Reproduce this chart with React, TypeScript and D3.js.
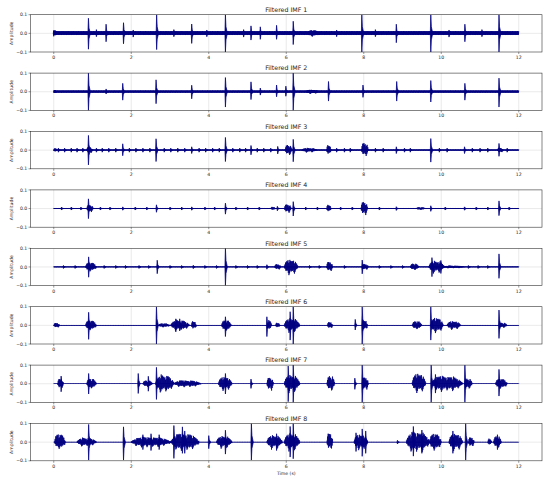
import React from 'react';
import * as d3 from 'd3';

const xTicks = [0, 2, 4, 6, 8, 10, 12];
const yTicks = [-0.1, 0.0, 0.1];
const titles = ['Filtered IMF 1', 'Filtered IMF 2', 'Filtered IMF 3', 'Filtered IMF 4',
  'Filtered IMF 5', 'Filtered IMF 6', 'Filtered IMF 7', 'Filtered IMF 8'];
const signalEnd = 12;

// half-width of the background noise band in each IMF
const baseNoise = [0.012, 0.007, 0.004, 0.003, 0.003, 0.002, 0.0015, 0.0015];

// spikes: [time, top, bottom]
const imf1Spikes = [
  [0.0, 0.016, -0.016], [0.895, 0.081, -0.085], [1.35, 0.049, -0.045], [1.8, 0.057, -0.056],
  [2.655, 0.1, -0.087], [3.56, 0.05, -0.054], [4.43, 0.1, -0.1], [5.09, 0.04, -0.036],
  [5.33, 0.035, -0.032], [5.75, 0.043, -0.032], [6.18, 0.065, -0.06], [7.95, 0.1, -0.1],
  [8.84, 0.049, -0.05], [9.73, 0.1, -0.1], [10.61, 0.049, -0.045], [11.49, 0.1, -0.1],
  [1.1, 0.02, -0.018], [2.05, 0.018, -0.02], [3.1, 0.02, -0.018], [3.95, 0.018, -0.018],
  [4.9, 0.02, -0.02], [7.3, 0.018, -0.018], [8.3, 0.02, -0.018], [10.2, 0.018, -0.02], [11.05, 0.02, -0.018],
];
const imf2Spikes = [
  [0.895, 0.1, -0.1], [1.35, 0.015, -0.012], [1.78, 0.045, -0.045], [2.64, 0.064, -0.064],
  [3.56, 0.035, -0.038], [4.43, 0.076, -0.082], [5.09, 0.053, -0.042], [5.33, 0.02, -0.018],
  [5.75, 0.036, -0.027], [5.99, 0.03, -0.024], [6.18, 0.1, -0.1], [7.09, 0.055, -0.05],
  [7.98, 0.036, -0.03], [8.85, 0.055, -0.05], [9.73, 0.06, -0.055], [10.61, 0.045, -0.045],
  [11.49, 0.073, -0.082],
];
const imf3Spikes = [
  [0.895, 0.079, -0.079], [1.78, 0.034, -0.03], [2.64, 0.061, -0.061], [3.56, 0.018, -0.018],
  [4.43, 0.068, -0.061], [5.09, 0.025, -0.025], [5.78, 0.02, -0.02], [6.18, 0.058, -0.062],
  [8.84, 0.018, -0.018], [9.73, 0.062, -0.064], [10.6, 0.018, -0.018], [11.49, 0.036, -0.033],
  [0.12, 0.011, -0.011], [0.28, 0.011, -0.011], [0.45, 0.011, -0.011], [0.6, 0.011, -0.011],
  [0.75, 0.011, -0.011], [1.1, 0.011, -0.011], [1.25, 0.011, -0.011], [1.42, 0.011, -0.011],
  [1.6, 0.011, -0.011], [1.95, 0.011, -0.011], [2.12, 0.011, -0.011], [2.3, 0.011, -0.011],
  [2.48, 0.011, -0.011], [2.85, 0.011, -0.011], [3.02, 0.011, -0.011], [3.2, 0.011, -0.011],
  [3.38, 0.011, -0.011], [3.75, 0.011, -0.011], [3.92, 0.011, -0.011], [4.1, 0.011, -0.011],
  [4.27, 0.011, -0.011], [4.62, 0.011, -0.011], [4.8, 0.011, -0.011], [4.95, 0.011, -0.011],
  [5.25, 0.011, -0.011], [5.42, 0.011, -0.011], [5.6, 0.011, -0.011], [7.3, 0.011, -0.011],
  [7.5, 0.011, -0.011], [7.65, 0.011, -0.011], [8.3, 0.011, -0.011], [8.5, 0.011, -0.011],
  [9.05, 0.011, -0.011], [9.2, 0.011, -0.011], [9.95, 0.011, -0.011], [10.15, 0.011, -0.011],
  [10.8, 0.011, -0.011], [11.0, 0.011, -0.011], [11.2, 0.011, -0.011], [11.7, 0.011, -0.011],
];
const imf4Spikes = [
  [0.895, 0.052, -0.054], [2.65, 0.02, -0.02], [4.43, 0.029, -0.03], [5.77, 0.012, -0.012],
  [6.18, 0.037, -0.04], [8.84, 0.01, -0.01], [9.73, 0.015, -0.015], [11.49, 0.041, -0.038],
  [0.2, 0.008, -0.008], [0.45, 0.008, -0.008], [0.7, 0.008, -0.008], [1.2, 0.008, -0.008],
  [1.45, 0.008, -0.008], [1.78, 0.009, -0.009], [2.1, 0.008, -0.008], [2.4, 0.008, -0.008],
  [3.0, 0.008, -0.008], [3.3, 0.008, -0.008], [3.56, 0.009, -0.009], [3.9, 0.008, -0.008],
  [4.15, 0.008, -0.008], [4.7, 0.008, -0.008], [5.0, 0.008, -0.008], [5.3, 0.008, -0.008],
  [6.5, 0.008, -0.008], [6.8, 0.008, -0.008], [7.4, 0.008, -0.008], [7.7, 0.008, -0.008],
  [8.4, 0.008, -0.008], [10.1, 0.008, -0.008], [10.6, 0.009, -0.009], [10.9, 0.008, -0.008],
  [11.2, 0.008, -0.008], [11.75, 0.008, -0.008],
];
const imf5Spikes = [
  [0.9, 0.054, -0.055], [2.67, 0.036, -0.036], [4.43, 0.1, -0.1], [5.5, 0.012, -0.012],
  [7.96, 0.037, -0.037], [9.76, 0.05, -0.052], [9.99, 0.035, -0.035], [11.49, 0.07, -0.061],
  [0.25, 0.008, -0.008], [0.55, 0.008, -0.008], [1.3, 0.008, -0.008], [1.6, 0.008, -0.008],
  [1.85, 0.008, -0.008], [2.2, 0.008, -0.008], [2.45, 0.008, -0.008], [3.0, 0.008, -0.008],
  [3.3, 0.008, -0.008], [3.6, 0.009, -0.009], [3.9, 0.008, -0.008], [4.2, 0.008, -0.008],
  [4.7, 0.008, -0.008], [5.0, 0.008, -0.008], [5.25, 0.008, -0.008], [6.6, 0.008, -0.008],
  [6.85, 0.008, -0.008], [7.5, 0.008, -0.008], [8.4, 0.008, -0.008], [8.7, 0.008, -0.008],
  [9.0, 0.008, -0.008], [10.7, 0.008, -0.008], [10.95, 0.008, -0.008], [11.2, 0.008, -0.008],
];
const imf6Spikes = [
  [0.9, 0.07, -0.075], [2.65, 0.1, -0.1], [3.15, 0.035, -0.035], [3.25, 0.035, -0.03],
  [4.43, 0.046, -0.06], [5.5, 0.046, -0.06], [6.1, 0.073, -0.079], [6.18, 0.1, -0.1],
  [7.78, 0.032, -0.025], [7.96, 0.1, -0.1], [9.73, 0.1, -0.079], [11.49, 0.082, -0.07],
];
const imf7Spikes = [
  [0.19, 0.041, -0.043], [0.9, 0.055, -0.055], [2.18, 0.055, -0.052], [2.44, 0.04, -0.04],
  [2.65, 0.088, -0.084], [4.43, 0.055, -0.055], [5.09, 0.025, -0.025], [6.05, 0.095, -0.096],
  [6.18, 0.1, -0.1], [7.77, 0.03, -0.03], [7.96, 0.1, -0.1], [9.74, 0.1, -0.1],
  [9.85, 0.05, -0.05], [10.61, 0.1, -0.1], [11.49, 0.077, -0.066],
];
const imf8Spikes = [
  [0.9, 0.095, -0.096], [1.8, 0.082, -0.096], [2.3, 0.04, -0.04], [2.51, 0.045, -0.045],
  [2.72, 0.04, -0.04], [3.1, 0.089, -0.087], [3.32, 0.082, -0.06], [3.38, 0.06, -0.06],
  [4.0, 0.035, -0.035], [4.43, 0.064, -0.064], [5.1, 0.1, -0.096], [5.75, 0.045, -0.045],
  [6.1, 0.084, -0.08], [6.18, 0.1, -0.089], [7.8, 0.05, -0.05], [7.96, 0.071, -0.076],
  [8.05, 0.06, -0.06], [8.87, 0.01, -0.01], [9.28, 0.084, -0.075], [9.5, 0.065, -0.06],
  [10.3, 0.06, -0.06], [10.63, 0.1, -0.096], [11.45, 0.04, -0.04],
];

// bursts: [start, end, top, bottom]
const imf1Bursts = [[0, 0.08, 0.02, -0.02], [6.55, 6.85, 0.02, -0.02]];
const imf2Bursts = [[0, 0.06, 0.012, -0.012], [6.5, 6.85, 0.012, -0.012]];
const imf3Bursts = [
  [0, 0.08, 0.012, -0.012], [0.85, 1.0, 0.02, -0.02], [5.97, 6.15, 0.032, -0.03],
  [6.4, 6.8, 0.013, -0.013], [7.04, 7.16, 0.03, -0.03], [7.94, 8.12, 0.045, -0.036],
  [11.45, 11.6, 0.015, -0.015],
];
const imf4Bursts = [
  [0.85, 1.02, 0.022, -0.022], [5.6, 5.72, 0.01, -0.01], [5.95, 6.13, 0.026, -0.026],
  [7.04, 7.16, 0.022, -0.022], [7.93, 8.1, 0.041, -0.041], [9.35, 9.6, 0.008, -0.008],
];
const imf5Bursts = [
  [0.82, 1.1, 0.027, -0.027], [5.7, 5.86, 0.017, -0.017], [5.95, 6.3, 0.043, -0.046],
  [7.04, 7.2, 0.032, -0.028], [7.96, 8.12, 0.018, -0.018], [9.2, 9.42, 0.02, -0.02],
  [9.68, 10.08, 0.035, -0.035], [10.05, 10.6, 0.008, -0.008],
];
const imf6Bursts = [
  [0, 0.15, 0.015, -0.015], [0.82, 1.1, 0.03, -0.03], [2.7, 3.0, 0.012, -0.012],
  [3.02, 3.5, 0.03, -0.03], [3.55, 3.68, 0.025, -0.025], [4.33, 4.58, 0.03, -0.035],
  [5.52, 5.62, 0.03, -0.03], [5.72, 5.84, 0.015, -0.015], [5.95, 6.35, 0.04, -0.04],
  [7.06, 7.2, 0.02, -0.02], [7.96, 8.1, 0.03, -0.03], [9.25, 9.5, 0.025, -0.025],
  [9.73, 10.05, 0.045, -0.045], [10.15, 10.5, 0.025, -0.025], [11.49, 11.7, 0.015, -0.015],
];
const imf7Bursts = [
  [0.1, 0.25, 0.03, -0.03], [0.85, 1.1, 0.03, -0.03], [2.3, 2.55, 0.02, -0.02],
  [2.63, 3.1, 0.05, -0.05], [3.1, 3.8, 0.02, -0.02], [4.25, 4.6, 0.04, -0.04],
  [5.5, 5.67, 0.038, -0.043], [5.95, 6.35, 0.05, -0.05], [7.05, 7.25, 0.046, -0.043],
  [7.96, 8.12, 0.04, -0.04], [9.25, 9.6, 0.06, -0.052], [9.74, 10.55, 0.045, -0.045],
  [10.6, 10.8, 0.03, -0.03], [11.4, 11.7, 0.03, -0.03],
];
const imf8Bursts = [
  [0.02, 0.3, 0.049, -0.042], [0.6, 1.1, 0.025, -0.025], [2.0, 3.03, 0.03, -0.03],
  [3.03, 3.75, 0.05, -0.05], [4.2, 4.6, 0.035, -0.035], [5.5, 5.9, 0.04, -0.04],
  [5.95, 6.35, 0.05, -0.05], [7.05, 7.2, 0.056, -0.049], [7.75, 8.1, 0.045, -0.045],
  [9.1, 9.7, 0.06, -0.06], [9.7, 10.0, 0.051, -0.05], [10.2, 10.55, 0.05, -0.05],
  [10.7, 10.85, 0.03, -0.03], [11.2, 11.3, 0.02, -0.02], [11.35, 11.55, 0.035, -0.035],
];

const allSpikes = [imf1Spikes, imf2Spikes, imf3Spikes, imf4Spikes, imf5Spikes, imf6Spikes, imf7Spikes, imf8Spikes];
const allBursts = [imf1Bursts, imf2Bursts, imf3Bursts, imf4Bursts, imf5Bursts, imf6Bursts, imf7Bursts, imf8Bursts];

const W = 550;
const H = 483;
const left = 30.5;
const right = 542;
const firstTop = 14.7;
const pitch = 58.4;
const panelH = 37.3;
const navy = '#000080';
const font = 'DejaVu Sans, sans-serif';

// fixed stroke texture so filled regions read as an oscillating trace
const texture = [1, 0.6, 0.85, 0.45, 0.95, 0.65, 0.8, 0.5, 0.9, 0.55, 0.75, 0.4, 0.88, 0.7, 0.5, 1, 0.62, 0.82];
const baseTexture = [1, 0.75, 0.9, 0.6, 0.95, 0.7, 0.85, 0.65];
const burstProfile = [[0, 0.15], [0.12, 0.7], [0.3, 1], [0.5, 0.78], [0.7, 0.88], [0.88, 0.5], [1, 0.15]];
const step = 0.008;

type P = { t: number; hi: number; lo: number };

export default function App() {
  const x = d3.scaleLinear().domain([-0.6, 12.6]).range([left, right]);
  const y = d3.scaleLinear().domain([-0.1, 0.1]).range([panelH, 0]);
  const area = d3.area<P>().x(d => x(d.t)).y0(d => y(d.lo)).y1(d => y(d.hi));
  const line = d3.line<[number, number]>().x(d => x(d[0])).y(d => y(d[1]));

  const spikePath = (s: number[]) => {
    const [t, top, bot] = s;
    return area([
      { t: t - 0.012, hi: 0, lo: 0 },
      { t, hi: top, lo: bot },
      { t: t + 0.014, hi: top * 0.35, lo: bot * 0.35 },
      { t: t + 0.05, hi: 0, lo: 0 },
    ]);
  };

  const zigzag = (t0: number, t1: number, top: number, bot: number, env: (f: number) => number, tex: number[]) => {
    const pts: [number, number][] = [];
    const n = Math.max(2, Math.round((t1 - t0) / step));
    for (let k = 0; k <= n; k++) {
      const f = k / n;
      const m = env(f) * tex[k % tex.length];
      pts.push([t0 + f * (t1 - t0), (k % 2 === 0 ? top : bot) * m]);
    }
    return line(pts);
  };

  const profileScale = d3.scaleLinear().domain(burstProfile.map(p => p[0])).range(burstProfile.map(p => p[1]));
  const burstPath = (b: number[]) => zigzag(b[0], b[1], b[2], b[3], f => profileScale(f), texture);

  return (
    <svg width={W} height={H} style={{ position: 'absolute', left: 0, top: 0, background: '#fff' }}
      fontFamily={font}>
      <defs>
        <clipPath id="plotclip">
          <rect x={left} y={0} width={right - left} height={panelH} />
        </clipPath>
      </defs>
      {titles.map((title, i) => {
        const top = firstTop + i * pitch;
        const base = baseNoise[i];
        return (
          <g key={title} transform={`translate(0,${top})`}>
            <text x={(left + right) / 2} y={-2.8} fontSize={6.3} textAnchor="middle" fill="#222">{title}</text>
            {xTicks.map(t => (
              <line key={'gx' + t} x1={x(t)} x2={x(t)} y1={0} y2={panelH} stroke="#dcdcdc" strokeWidth={0.6} />
            ))}
            <line x1={left} x2={right} y1={y(0)} y2={y(0)} stroke="#dcdcdc" strokeWidth={0.6} />
            <g clipPath="url(#plotclip)" stroke={navy} strokeLinejoin="round">
              <path d={zigzag(0, signalEnd, base, -base, () => 1, baseTexture) || ''} fill="none" strokeWidth={0.9} />
              {allBursts[i].map((b, j) => <path key={'b' + j} d={burstPath(b) || ''} fill="none" strokeWidth={0.75} />)}
              {allSpikes[i].map((s, j) => <path key={'s' + j} d={spikePath(s) || ''} fill={navy} strokeWidth={0.75} />)}
            </g>
            <rect x={left} y={0} width={right - left} height={panelH} fill="none" stroke="#333" strokeWidth={0.6} />
            {xTicks.map(t => (
              <g key={'xt' + t}>
                <line x1={x(t)} x2={x(t)} y1={panelH} y2={panelH + 2} stroke="#333" strokeWidth={0.5} />
                <text x={x(t)} y={panelH + 7} fontSize={4.6} textAnchor="middle" fill="#222">{t}</text>
              </g>
            ))}
            {yTicks.map(v => (
              <g key={'yt' + v}>
                <line x1={left - 2} x2={left} y1={y(v)} y2={y(v)} stroke="#333" strokeWidth={0.5} />
                <text x={left - 3.2} y={y(v) + 1.6} fontSize={4.6} textAnchor="end" fill="#222">
                  {v === 0 ? '0.0' : (v < 0 ? '\u2212' : '') + Math.abs(v).toFixed(1)}
                </text>
              </g>
            ))}
            <text transform={`translate(13,${panelH / 2}) rotate(-90)`} fontSize={4.6} textAnchor="middle" fill="#222">Amplitude</text>
          </g>
        );
      })}
      <text x={(left + right) / 2} y={firstTop + 7 * pitch + panelH + 14.5} fontSize={4.6} textAnchor="middle" fill="#222">Time (s)</text>
    </svg>
  );
}
